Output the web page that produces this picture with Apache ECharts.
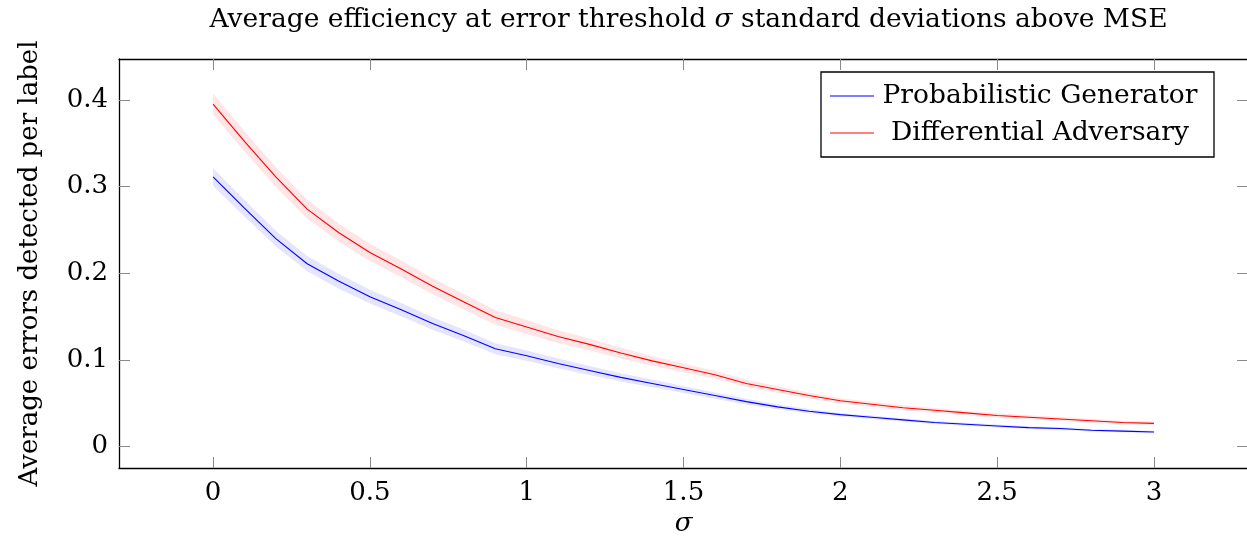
<!DOCTYPE html>
<html>
<head>
<meta charset="utf-8">
<script src="https://cdn.jsdelivr.net/npm/echarts@6/dist/echarts.min.js"></script>
<style>
  html, body { margin: 0; padding: 0; background: #fff; }
  #chart { width: 1247px; height: 537px; }
</style>
</head>
<body>
<div id="chart"></div>
<script>
// sigma thresholds (standard deviations above MSE)
const sigma = [0, 0.1, 0.2, 0.3, 0.4, 0.5, 0.6, 0.7, 0.8, 0.9, 1.0,
               1.1, 1.2, 1.3, 1.4, 1.5, 1.6, 1.7, 1.8, 1.9, 2.0,
               2.1, 2.2, 2.3, 2.4, 2.5, 2.6, 2.7, 2.8, 2.9, 3.0];

// mean errors detected per label
const probGenMean = [0.311, 0.275, 0.240, 0.211, 0.191, 0.173, 0.158, 0.142, 0.128, 0.113, 0.105,
                     0.096, 0.088, 0.080, 0.073, 0.066, 0.059, 0.052, 0.046, 0.041, 0.037,
                     0.034, 0.031, 0.028, 0.026, 0.024, 0.022, 0.021, 0.019, 0.018, 0.017];
const diffAdvMean = [0.395, 0.352, 0.311, 0.274, 0.247, 0.224, 0.205, 0.185, 0.167, 0.149, 0.138,
                     0.127, 0.118, 0.108, 0.099, 0.091, 0.083, 0.073, 0.066, 0.059, 0.053,
                     0.049, 0.045, 0.042, 0.039, 0.036, 0.034, 0.032, 0.030, 0.028, 0.027];

// half-width of the shaded spread around each mean
const probGenSpread = [0.010, 0.0095, 0.009, 0.0088, 0.0085, 0.008, 0.0076, 0.0072, 0.0068, 0.0064, 0.006,
                       0.0056, 0.0052, 0.0048, 0.0044, 0.004, 0.0036, 0.0032, 0.0028, 0.0024, 0.002,
                       0.002, 0.0019, 0.0018, 0.0018, 0.0017, 0.0016, 0.0016, 0.0015, 0.0015, 0.0015];
const diffAdvSpread = [0.012, 0.0116, 0.0112, 0.0108, 0.0104, 0.010, 0.0096, 0.0092, 0.0088, 0.0084, 0.008,
                       0.0074, 0.0068, 0.0062, 0.0056, 0.005, 0.0046, 0.0042, 0.0038, 0.0034, 0.003,
                       0.0029, 0.0028, 0.0027, 0.0026, 0.0025, 0.0024, 0.0023, 0.0022, 0.0021, 0.002];

const xTicks = [0, 0.5, 1, 1.5, 2, 2.5, 3];
const yTicks = [0, 0.1, 0.2, 0.3, 0.4];
const seriesNames = ['Probabilistic Generator', 'Differential Adversary'];

const FONT = '"DejaVu Serif", "Liberation Serif", serif';
const FS = 26;
const FS_BIG = 26.5;

function pairs(xs, ys) { return xs.map((x, i) => [x, ys[i]]); }

// shaded band drawn as a single polygon through the axis scales
function band(name, xs, mid, half, fill) {
  return {
    type: 'custom',
    name: name + ' spread',
    silent: true,
    z: 1,
    data: xs.map((x, i) => [x, mid[i] - half[i], mid[i] + half[i]]),
    encode: { x: 0, y: [1, 2] },
    renderItem: function (params, api) {
      if (params.dataIndex !== 0) return null;
      const pts = [];
      for (let i = 0; i < xs.length; i++) pts.push(api.coord([xs[i], mid[i] + half[i]]));
      for (let i = xs.length - 1; i >= 0; i--) pts.push(api.coord([xs[i], mid[i] - half[i]]));
      return { type: 'polygon', shape: { points: pts }, style: { fill: fill } };
    }
  };
}

function line(name, xs, ys, color) {
  return {
    type: 'line',
    name: name,
    data: pairs(xs, ys),
    showSymbol: false,
    symbol: 'none',
    z: 3,
    lineStyle: { color: color, width: 1.1 },
    itemStyle: { color: color },
    animation: false
  };
}

const X_MIN = -0.3, X_MAX = 3.3;
const Y_MIN = -0.0245, Y_MAX = 0.447;

function xAxisDef(pos, showLabels) {
  return {
    type: 'value', position: pos, min: X_MIN, max: X_MAX,
    axisLine: { show: true, onZero: false, lineStyle: { color: '#000', width: 1.3 } },
    axisTick: { show: true, inside: true, length: 11, customValues: xTicks, lineStyle: { color: '#8a8a8a', width: 1 } },
    axisLabel: showLabels ? {
      show: true, customValues: xTicks, margin: 12, color: '#000',
      fontFamily: FONT, fontSize: FS
    } : { show: false },
    splitLine: { show: false }
  };
}
function yAxisDef(pos, showLabels) {
  return {
    type: 'value', position: pos, min: Y_MIN, max: Y_MAX,
    axisLine: { show: true, onZero: false, lineStyle: { color: '#000', width: 1.3 } },
    axisTick: { show: true, inside: true, length: 11, customValues: yTicks, lineStyle: { color: '#8a8a8a', width: 1 } },
    axisLabel: showLabels ? {
      show: true, customValues: yTicks, margin: 11, color: '#000',
      fontFamily: FONT, fontSize: FS
    } : { show: false },
    splitLine: { show: false }
  };
}

const xMain = xAxisDef('bottom', true);
xMain.name = 'σ';
xMain.nameLocation = 'middle';
xMain.nameGap = 41;
xMain.nameTextStyle = { fontFamily: FONT, fontSize: FS, fontStyle: 'italic', color: '#000' };

const yMain = yAxisDef('left', true);
yMain.name = 'Average errors detected per label';
yMain.nameLocation = 'middle';
yMain.nameGap = 76;
yMain.nameTextStyle = { fontFamily: FONT, fontSize: FS, color: '#000' };

const chart = echarts.init(document.getElementById('chart'), null, { renderer: 'canvas' });

const legendLeft = 821, legendTop = 72, legendW = 393, legendH = 85;
const legendRows = [
  { name: seriesNames[0], color: '#0000ff', y: 96 },
  { name: seriesNames[1], color: '#ff0000', y: 133 }
];

chart.setOption({
  animation: false,
  backgroundColor: '#fff',
  title: {
    text: 'Average efficiency at error threshold {i|σ} standard deviations above MSE',
    left: 683.5,
    textAlign: 'center',
    top: 2,
    textStyle: {
      fontFamily: FONT, fontSize: FS_BIG, fontWeight: 'normal', color: '#000',
      rich: { i: { fontFamily: FONT, fontSize: FS_BIG, fontStyle: 'italic', color: '#000' } }
    }
  },
  grid: { left: 119, top: 59, width: 1129, height: 409, outerBoundsMode: 'none', containLabel: false },
  xAxis: [xMain, xAxisDef('top', false)],
  yAxis: [yMain, yAxisDef('right', false)],
  series: [
    band(seriesNames[0], sigma, probGenMean, probGenSpread, '#e5e5ff'),
    band(seriesNames[1], sigma, diffAdvMean, diffAdvSpread, '#ffe5e5'),
    line(seriesNames[0], sigma, probGenMean, '#0000ff'),
    line(seriesNames[1], sigma, diffAdvMean, '#ff0000')
  ],
  graphic: [{
    type: 'group',
    z: 100,
    children: [
      { type: 'rect', shape: { x: legendLeft, y: legendTop, width: legendW, height: legendH },
        style: { fill: '#fff', stroke: '#000', lineWidth: 1.3 } }
    ].concat(...legendRows.map(r => [
      { type: 'line', shape: { x1: 830, y1: r.y, x2: 874, y2: r.y },
        style: { stroke: r.color, lineWidth: 1.1 } },
      { type: 'text', x: 1040, y: r.y,
        style: { text: r.name, fontFamily: FONT, fontSize: FS_BIG, fill: '#000',
                 align: 'center', verticalAlign: 'middle' } }
    ]))
  }]
});
</script>
</body>
</html>
